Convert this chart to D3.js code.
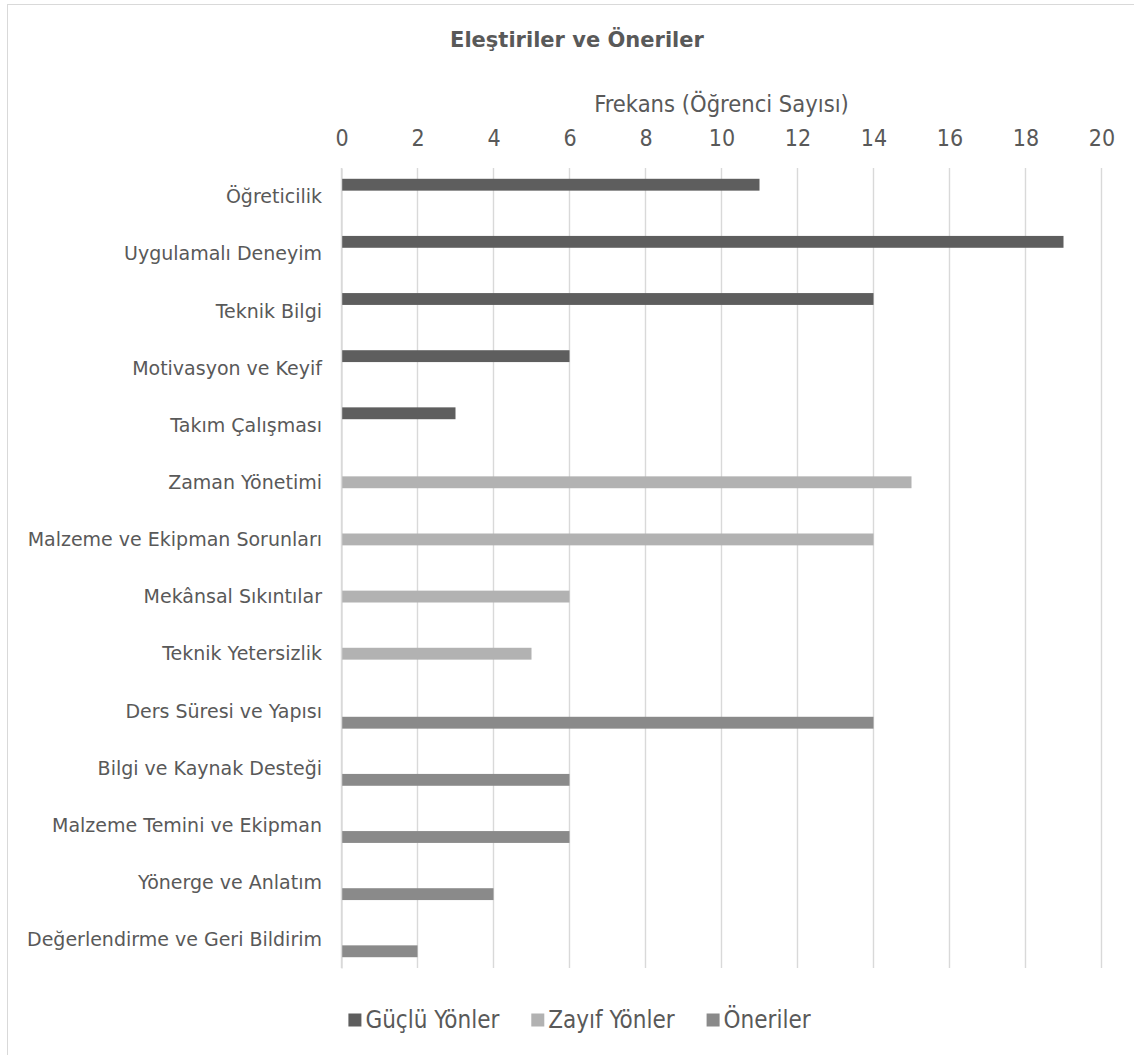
<!DOCTYPE html>
<html>
<head>
<meta charset="utf-8">
<script src="https://cdn.jsdelivr.net/npm/d3@7"></script>
<style>
  html, body { margin: 0; padding: 0; background: #ffffff; }
  svg { display: block; }
  text { font-family: "DejaVu Sans", sans-serif; fill: #595959; }
</style>
</head>
<body>
<svg id="chart" width="1134" height="1055"></svg>
<script>
// Categories, top to bottom
const categories = [
  "Öğreticilik",
  "Uygulamalı Deneyim",
  "Teknik Bilgi",
  "Motivasyon ve Keyif",
  "Takım Çalışması",
  "Zaman Yönetimi",
  "Malzeme ve Ekipman Sorunları",
  "Mekânsal Sıkıntılar",
  "Teknik Yetersizlik",
  "Ders Süresi ve Yapısı",
  "Bilgi ve Kaynak Desteği",
  "Malzeme Temini ve Ekipman",
  "Yönerge ve Anlatım",
  "Değerlendirme ve Geri Bildirim"
];

const seriesNames = ["Güçlü Yönler", "Zayıf Yönler", "Öneriler"];

// Frequencies per series (null = no entry for that category)
const gucluYonler = [11, 19, 14, 6, 3, null, null, null, null, null, null, null, null, null];
const zayifYonler = [null, null, null, null, null, 15, 14, 6, 5, null, null, null, null, null];
const oneriler    = [null, null, null, null, null, null, null, null, null, 14, 6, 6, 4, 2];

const tickValues = [0, 2, 4, 6, 8, 10, 12, 14, 16, 18, 20];

const seriesColors = ["#5e5e5e", "#b2b2b2", "#8a8a8a"];

const chartTitle = "Eleştiriler ve Öneriler";
const axisTitle = "Frekans (Öğrenci Sayısı)";

const seriesValues = [gucluYonler, zayifYonler, oneriler];

const condensed = "'DejaVu Sans Condensed', 'DejaVu Sans', sans-serif";

const svg = d3.select("#chart");

// chart frame
svg.append("rect")
  .attr("x", 7.5).attr("y", 4.5)
  .attr("width", 1140).attr("height", 1060)
  .attr("fill", "#ffffff")
  .attr("stroke", "#d9d9d9")
  .attr("stroke-width", 1);

const plot = { left: 341.5, right: 1101.5, top: 168, bottom: 968 };

const x = d3.scaleLinear().domain([0, 20]).range([plot.left, plot.right]);
const y = d3.scaleBand().domain(categories).range([plot.top, plot.bottom]).paddingInner(0).paddingOuter(0);
const ySeries = d3.scaleBand().domain(seriesNames).range([0, y.bandwidth()]).paddingInner(0).paddingOuter(0.91);

// vertical gridlines
svg.append("g")
  .selectAll("line")
  .data(tickValues)
  .join("line")
  .attr("x1", d => x(d)).attr("x2", d => x(d))
  .attr("y1", plot.top).attr("y2", plot.bottom)
  .attr("stroke", "#d9d9d9")
  .attr("stroke-width", 1.4);

// value axis on top
const xAxis = d3.axisTop(x).tickValues(tickValues).tickSize(0).tickPadding(0);
const gx = svg.append("g").attr("transform", `translate(0,${plot.top})`).call(xAxis);
gx.select(".domain").remove();
gx.selectAll("text")
  .attr("y", 138 - plot.top)
  .attr("dy", "0.35em")
  .style("font-size", "23px")
  .style("font-family", condensed)
  .attr("fill", "#595959");

// category axis
const yAxis = d3.axisLeft(y).tickSize(0).tickPadding(0);
const gy = svg.append("g").attr("transform", `translate(${plot.left},0)`).call(yAxis);
gy.select(".domain")
  .attr("stroke", "#d9d9d9")
  .attr("stroke-width", 1.4);
gy.selectAll("text")
  .attr("x", 322 - plot.left)
  .attr("dy", "0.35em")
  .style("font-size", "19px")
  .attr("fill", "#595959");

// bars
seriesValues.forEach((vals, si) => {
  svg.append("g")
    .selectAll("rect")
    .data(categories.map((c, i) => ({ c, v: vals[i] })).filter(d => d.v != null))
    .join("rect")
    .attr("x", x(0) + 0.7)
    .attr("y", d => y(d.c) + ySeries(seriesNames[si]))
    .attr("width", d => x(d.v) - x(0) - 0.7)
    .attr("height", ySeries.bandwidth())
    .attr("fill", seriesColors[si]);
});

// titles
svg.append("text")
  .attr("x", 577).attr("y", 47)
  .attr("text-anchor", "middle")
  .style("font-size", "21px")
  .style("font-weight", "bold")
  .text(chartTitle);

svg.append("text")
  .attr("x", (plot.left + plot.right) / 2).attr("y", 104)
  .attr("text-anchor", "middle")
  .attr("dy", "0.35em")
  .style("font-size", "23.5px")
  .style("font-family", condensed)
  .text(axisTitle);

// legend
const legend = svg.append("g");
let cursor = 0;
seriesNames.forEach((name, i) => {
  const item = legend.append("g").attr("transform", `translate(${cursor},0)`);
  item.append("rect")
    .attr("x", 0).attr("y", -6.5)
    .attr("width", 13).attr("height", 13)
    .attr("fill", seriesColors[i]);
  const t = item.append("text")
    .attr("x", 17).attr("dy", "0.35em")
    .style("font-size", "24px")
    .style("font-family", condensed)
    .text(name);
  cursor += 17 + t.node().getComputedTextLength() + 32;
});
const legendWidth = cursor - 32;
legend.attr("transform", `translate(${579.5 - legendWidth / 2},1020)`);
</script>
</body>
</html>
